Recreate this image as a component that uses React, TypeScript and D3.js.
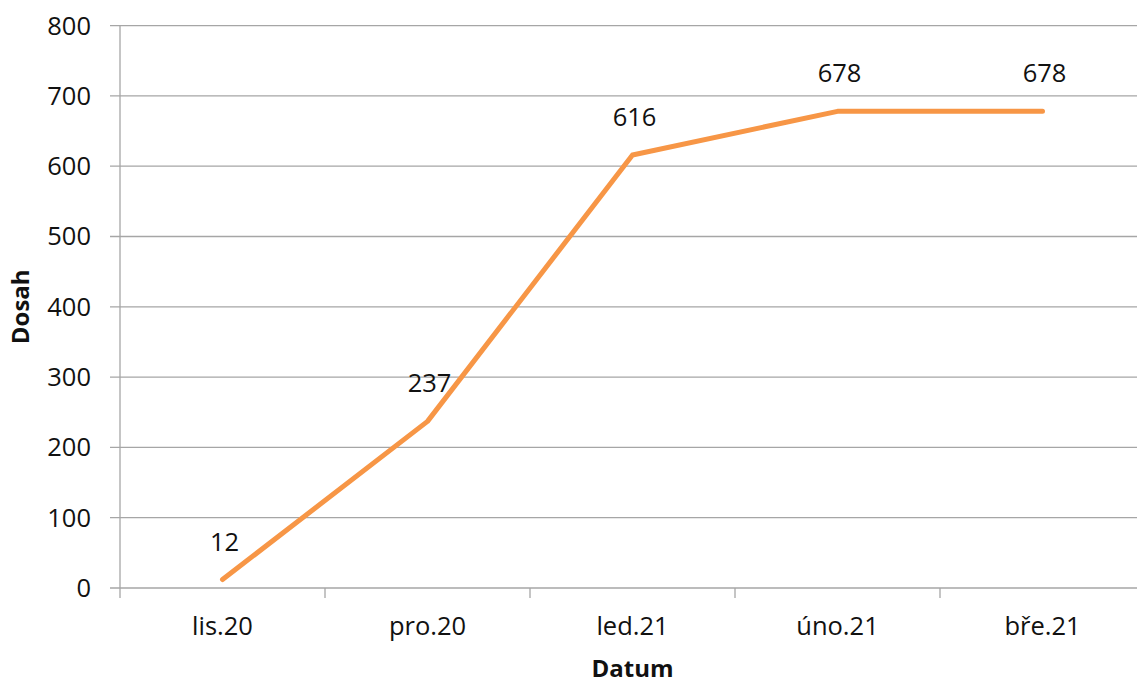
import React from "react";
import * as d3 from "d3";

const months = ["lis.20", "pro.20", "led.21", "úno.21", "bře.21"];
const reach = [12, 237, 616, 678, 678];
const yTicks = [0, 100, 200, 300, 400, 500, 600, 700, 800];

const W = 1137;
const H = 684;
const left = 120;
const right = 1145;
const top = 25.6;
const bottom = 588;
const FONT = "'Open Sans', 'Liberation Sans', sans-serif";
const GRID = "#a6a6a6";

export default function App() {
  const x = d3.scaleBand<string>().domain(months).range([left, right]).padding(0);
  const y = d3.scaleLinear().domain([0, 800]).range([bottom, top]);
  const cx = (m: string) => (x(m) ?? 0) + x.bandwidth() / 2;

  const line = d3
    .line<number>()
    .x((_, i) => cx(months[i]))
    .y((v) => y(v));

  const bandEdges = [...months.map((m) => x(m) ?? 0), right];

  return (
    <svg
      width={W}
      height={H}
      style={{ position: "fixed", left: 0, top: 0, background: "#fff" }}
      fontFamily={FONT}
    >
      <rect width={W} height={H} fill="#fff" />
      {yTicks.map((t) => (
        <g key={t}>
          <line x1={left - 10} x2={right} y1={y(t)} y2={y(t)} stroke={GRID} strokeWidth={1.3} />
          <text x={91} y={y(t)} dy="0.35em" textAnchor="end" fontSize={25.5} fill="#111">
            {t}
          </text>
        </g>
      ))}
      <line x1={left} x2={left} y1={top} y2={bottom + 10} stroke={GRID} strokeWidth={1.3} />
      {bandEdges.slice(1).map((e, i) => (
        <line key={i} x1={e} x2={e} y1={bottom} y2={bottom + 10} stroke={GRID} strokeWidth={1.3} />
      ))}
      {months.map((m) => (
        <text key={m} x={cx(m)} y={635} textAnchor="middle" fontSize={25.5} fill="#111">
          {m}
        </text>
      ))}
      <path
        d={line(reach) ?? ""}
        fill="none"
        stroke="#f79646"
        strokeWidth={5}
        strokeLinecap="round"
        strokeLinejoin="round"
      />
      {reach.map((v, i) => (
        <text
          key={i}
          x={cx(months[i]) + 2}
          y={y(v) - 29}
          textAnchor="middle"
          fontSize={25.5}
          fill="#111"
        >
          {v}
        </text>
      ))}
      <text
        x={(left + right) / 2}
        y={677}
        textAnchor="middle"
        fontSize={24}
        fontWeight="bold"
        fill="#111"
      >
        Datum
      </text>
      <text
        transform={`translate(29, ${(top + bottom) / 2}) rotate(-90)`}
        textAnchor="middle"
        fontSize={24}
        fontWeight="bold"
        fill="#111"
      >
        Dosah
      </text>
    </svg>
  );
}
